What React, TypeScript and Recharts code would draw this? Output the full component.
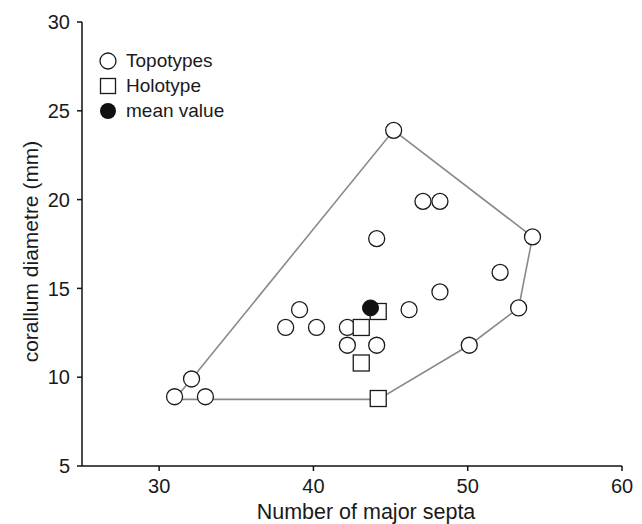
import React from 'react';
import { ScatterChart, Scatter, XAxis, YAxis, Legend } from 'recharts';

// values
const topotypes = [
  { x: 31.0, y: 8.9 },
  { x: 32.1, y: 9.9 },
  { x: 33.0, y: 8.9 },
  { x: 38.2, y: 12.8 },
  { x: 39.1, y: 13.8 },
  { x: 40.2, y: 12.8 },
  { x: 42.2, y: 12.8 },
  { x: 42.2, y: 11.8 },
  { x: 44.1, y: 11.8 },
  { x: 44.1, y: 17.8 },
  { x: 45.2, y: 23.9 },
  { x: 46.2, y: 13.8 },
  { x: 47.1, y: 19.9 },
  { x: 48.2, y: 19.9 },
  { x: 48.2, y: 14.8 },
  { x: 50.1, y: 11.8 },
  { x: 52.1, y: 15.9 },
  { x: 53.3, y: 13.9 },
  { x: 54.2, y: 17.9 },
];

const holotype = [
  { x: 44.2, y: 13.7 },
  { x: 43.1, y: 12.8 },
  { x: 43.1, y: 10.8 },
  { x: 44.2, y: 8.8 },
];

const meanValue = [{ x: 43.7, y: 13.9 }];

// outline around the topotype range, in drawing order
const hull = [
  { x: 31.0, y: 8.75 },
  { x: 32.1, y: 9.9 },
  { x: 45.2, y: 23.9 },
  { x: 54.2, y: 17.9 },
  { x: 53.3, y: 13.9 },
  { x: 50.1, y: 11.8 },
  { x: 44.2, y: 8.75 },
  { x: 31.0, y: 8.75 },
];

const xTicks = [30, 40, 50, 60];
const yTicks = [5, 10, 15, 20, 25, 30];
const legendOrder = ['Topotypes', 'Holotype', 'mean value'];

const FONT = '"Liberation Sans", Arial, sans-serif';
const INK = '#1a1a1a';

const OpenCircle = (p: any) => (
  <circle cx={p.cx} cy={p.cy} r={8} fill="#fff" stroke={INK} strokeWidth={1.3} />
);
const OpenSquare = (p: any) => (
  <rect x={p.cx - 8} y={p.cy - 8} width={16} height={16} fill="#fff" stroke={INK} strokeWidth={1.3} />
);
const FilledCircle = (p: any) => (
  <circle cx={p.cx} cy={p.cy} r={8} fill="#111" stroke="#111" strokeWidth={1} />
);
const NoDot = () => <g />;

const LegendBox = ({ payload }: any) => {
  const items = legendOrder.filter((name) => (payload || []).some((it: any) => it.value === name));
  return (
    <div style={{ fontFamily: FONT, fontSize: 19, color: INK, lineHeight: 1 }}>
      {items.map((name) => (
        <div key={name} style={{ display: 'flex', alignItems: 'center', height: 25 }}>
          <svg width={20} height={20} style={{ marginRight: 8 }}>
            {name === 'Topotypes' && <circle cx={10} cy={10} r={8} fill="#fff" stroke={INK} strokeWidth={1.3} />}
            {name === 'Holotype' && <rect x={2.5} y={2.5} width={15} height={15} fill="#fff" stroke={INK} strokeWidth={1.3} />}
            {name === 'mean value' && <circle cx={10} cy={10} r={8} fill="#111" />}
          </svg>
          <span>{name}</span>
        </div>
      ))}
    </div>
  );
};

export default function App() {
  return (
    <div style={{ position: 'absolute', left: 0, top: 0, background: '#fff' }}>
      <ScatterChart width={642} height={524} margin={{ top: 22, right: 20, bottom: 0, left: 0 }}>
        <XAxis
          type="number"
          dataKey="x"
          domain={[25, 60]}
          ticks={xTicks}
          allowDataOverflow
          height={58}
          tickSize={5}
          tickMargin={8}
          stroke="#111"
          strokeWidth={1.5}
          tick={{ fill: INK, fontSize: 20, fontFamily: FONT }}
          label={{ value: 'Number of major septa', position: 'insideBottom', offset: 5, dx: 14, fill: INK, fontSize: 21.5, fontFamily: FONT }}
        />
        <YAxis
          type="number"
          dataKey="y"
          domain={[5, 30]}
          ticks={yTicks}
          allowDataOverflow
          width={82}
          tickSize={5}
          tickMargin={7}
          stroke="#111"
          strokeWidth={1.5}
          tick={{ fill: INK, fontSize: 20, fontFamily: FONT }}
          label={{ value: 'corallum diametre (mm)', angle: -90, position: 'center', dx: -10, dy: 7.5, fill: INK, fontSize: 21, fontFamily: FONT }}
        />
        <Legend
          layout="horizontal"
          align="center"
          verticalAlign="middle"
          content={<LegendBox />}
          wrapperStyle={{ position: 'absolute', left: 98, top: 48, width: 200, height: 80 }}
        />
        <Scatter
          name="outline"
          data={hull}
          legendType="none"
          line={{ stroke: '#8a8a8a', strokeWidth: 1.6 }}
          shape={NoDot}
          isAnimationActive={false}
        />
        <Scatter name="Topotypes" data={topotypes} shape={OpenCircle} isAnimationActive={false} />
        <Scatter name="Holotype" data={holotype} shape={OpenSquare} isAnimationActive={false} />
        <Scatter name="mean value" data={meanValue} shape={FilledCircle} isAnimationActive={false} />
      </ScatterChart>
    </div>
  );
}
